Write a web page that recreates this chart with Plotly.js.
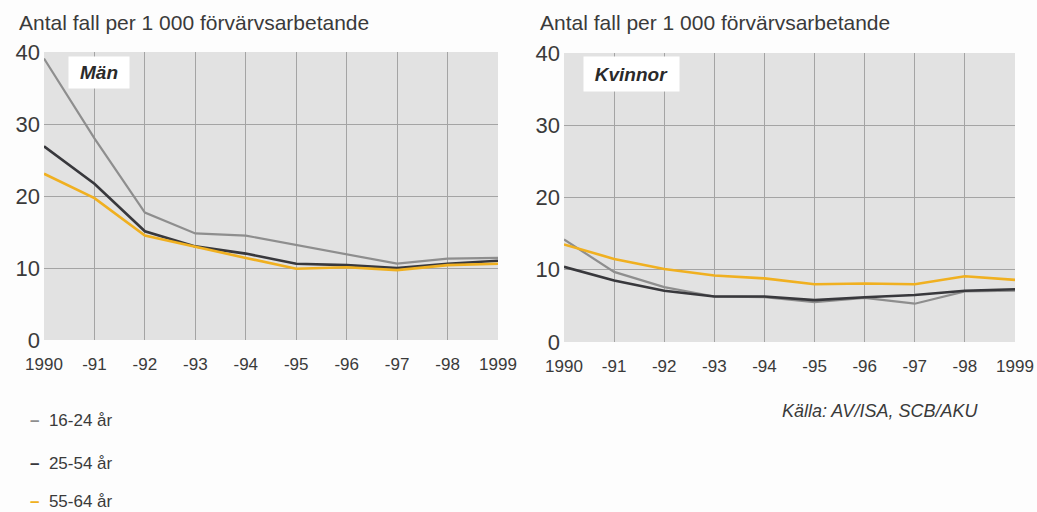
<!DOCTYPE html>
<html>
<head>
<meta charset="utf-8">
<script src="https://cdn.plot.ly/plotly-3.0.1.min.js"></script>
<style>
html,body{margin:0;padding:0;background:#fdfdfd;}
#chart{width:1037px;height:512px;}
</style>
</head>
<body>
<div id="chart"></div>
<script>
const years = [1990, 1991, 1992, 1993, 1994, 1995, 1996, 1997, 1998, 1999];
const yearLabels = ["1990", "-91", "-92", "-93", "-94", "-95", "-96", "-97", "-98", "1999"];
const seriesNames = ["16-24 år", "25-54 år", "55-64 år"];
const seriesColors = ["#8e8e8e", "#38383c", "#f0b020"];

const man_16_24 = [39.1, 28.0, 17.7, 14.8, 14.5, 13.2, 11.8, 10.6, 11.3, 11.4];
const man_25_54 = [26.9, 21.7, 15.1, 13.0, 12.0, 10.6, 10.4, 10.0, 10.6, 11.0];
const man_55_64 = [23.1, 19.7, 14.5, 12.9, 11.4, 9.9, 10.1, 9.7, 10.4, 10.6];

const kv_16_24 = [14.2, 9.7, 7.6, 6.3, 6.2, 5.5, 6.1, 5.3, 7.0, 7.1];
const kv_25_54 = [10.4, 8.5, 7.1, 6.3, 6.3, 5.8, 6.2, 6.5, 7.1, 7.3];
const kv_55_64 = [13.5, 11.5, 10.1, 9.2, 8.8, 8.0, 8.1, 8.0, 9.1, 8.6];

const panelTitles = ["Män", "Kvinnor"];
const yTitle = "Antal fall per 1 000 förvärvsarbetande";
const source = "Källa: AV/ISA, SCB/AKU";

const man = [man_16_24, man_25_54, man_55_64];
const kv = [kv_16_24, kv_25_54, kv_55_64];
const widths = [2.2, 2.6, 2.6];

const traces = [];
man.forEach((v, i) => traces.push({x: years, y: v, xaxis: 'x', yaxis: 'y', mode: 'lines', name: seriesNames[i],
  line: {color: seriesColors[i], width: widths[i]}, showlegend: false}));
kv.forEach((v, i) => traces.push({x: years, y: v, xaxis: 'x2', yaxis: 'y2', mode: 'lines', name: seriesNames[i],
  line: {color: seriesColors[i], width: widths[i]}, showlegend: false}));

const font = "Liberation Sans";
const txt = "#3a3a3a";

function xa(domain, anchor) {
  return {domain: domain, anchor: anchor, range: [1990, 1999], tickvals: years, ticktext: yearLabels,
    showgrid: true, gridcolor: "#a4a4a4", gridwidth: 1, zeroline: false, showline: false,
    ticks: 'outside', ticklen: 9, tickcolor: 'rgba(0,0,0,0)',
    tickfont: {family: font, size: 17, color: txt}, fixedrange: true};
}
function ya(domain, anchor) {
  return {domain: domain, anchor: anchor, range: [0, 40], tickvals: [0, 10, 20, 30, 40],
    showgrid: true, gridcolor: "#a4a4a4", gridwidth: 1, zeroline: false, showline: false, ticks: '',
    ticklabelstandoff: 3,
    tickfont: {family: font, size: 22, color: txt}, fixedrange: true};
}

const annotations = [
  {xref: 'paper', yref: 'paper', x: 17/1037, y: 1 - 22/512, xanchor: 'left', yanchor: 'middle', text: yTitle, showarrow: false,
    font: {family: font, size: 21, color: txt}},
  {xref: 'paper', yref: 'paper', x: 538/1037, y: 1 - 22/512, xanchor: 'left', yanchor: 'middle', text: yTitle, showarrow: false,
    font: {family: font, size: 21, color: txt}},
  {xref: 'paper', yref: 'paper', x: 68/1037, y: 1 - 72.5/512, xanchor: 'left', yanchor: 'middle', text: "<i><b>" + panelTitles[0] + "</b></i>",
    showarrow: false, bgcolor: "#ffffff", width: 54, height: 25, borderpad: 3, align: 'center',
    font: {family: font, size: 19, color: "#2a2a2a"}},
  {xref: 'paper', yref: 'paper', x: 583/1037, y: 1 - 74/512, xanchor: 'left', yanchor: 'middle', text: "<i><b>" + panelTitles[1] + "</b></i>",
    showarrow: false, bgcolor: "#ffffff", width: 89, height: 28, borderpad: 3, align: 'center',
    font: {family: font, size: 19, color: "#2a2a2a"}},
  {xref: 'paper', yref: 'paper', x: 980/1037, y: 1 - 411/512, xanchor: 'right', yanchor: 'middle', text: "<i>" + source + "</i>",
    showarrow: false, font: {family: font, size: 18, color: txt}}
];
const legendY = [420, 463, 501];
seriesNames.forEach((n, i) => {
  annotations.push({xref: 'paper', yref: 'paper', x: 28/1037, y: 1 - legendY[i]/512, xanchor: 'left', yanchor: 'middle',
    text: '<span style="color:' + seriesColors[i] + '"><b>–</b></span>  ' + n, showarrow: false,
    font: {family: font, size: 17, color: txt}});
});

const layout = {
  width: 1037, height: 512,
  margin: {l: 0, r: 0, t: 0, b: 0},
  paper_bgcolor: "#fdfdfd",
  plot_bgcolor: "#e2e2e2",
  showlegend: false,
  xaxis: xa([44/1037, 498/1037], 'y'),
  yaxis: ya([1 - 340/512, 1 - 52/512], 'x'),
  xaxis2: xa([564/1037, 1015/1037], 'y2'),
  yaxis2: ya([1 - 342/512, 1 - 53/512], 'x2'),
  annotations: annotations
};

Plotly.newPlot('chart', traces, layout, {displayModeBar: false, staticPlot: true});
</script>
</body>
</html>
